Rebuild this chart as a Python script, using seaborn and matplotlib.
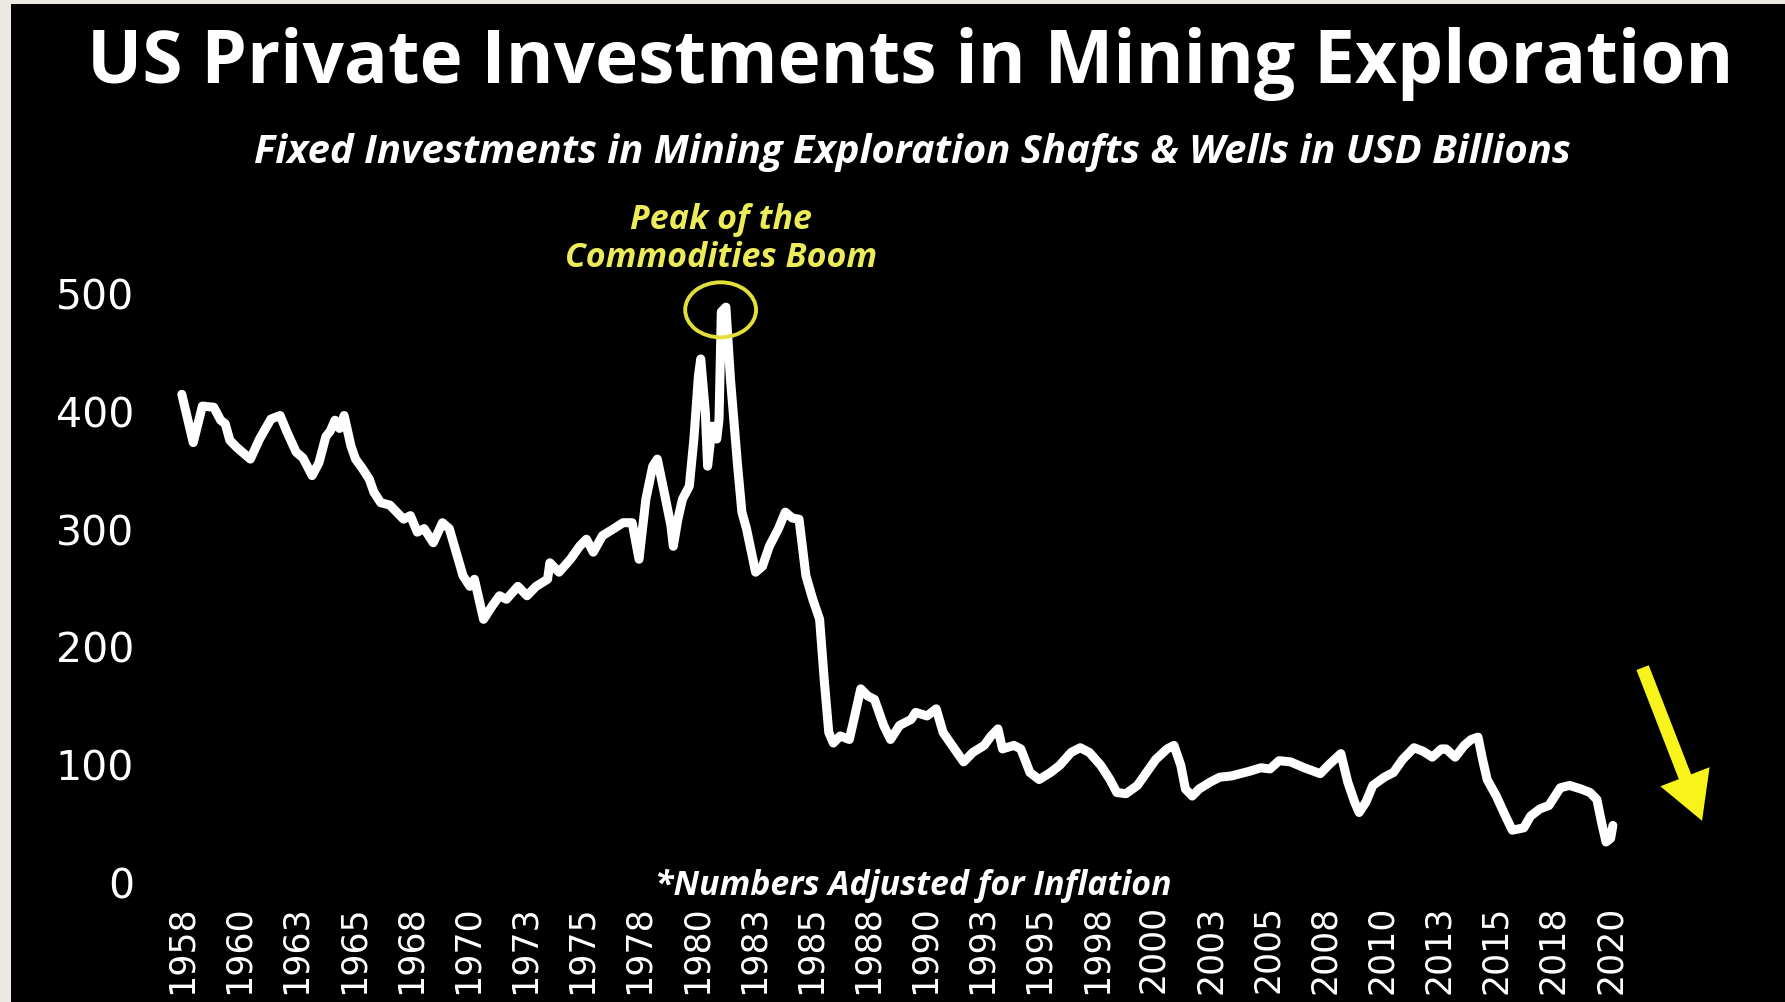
import seaborn as sns
import matplotlib.pyplot as plt
from matplotlib.patches import Ellipse, Rectangle

# values (USD billions, inflation adjusted)
years = [1958.3, 1958.8, 1959.2, 1959.7, 1960.0, 1960.2, 1960.4, 1960.7, 1961.3, 1961.7,
         1962.2, 1962.6, 1962.9, 1963.3, 1963.6, 1964.0, 1964.3, 1964.6, 1964.8, 1965.0,
         1965.2, 1965.4, 1965.7, 1965.9, 1966.2, 1966.5, 1966.7, 1967.0, 1967.4, 1967.7,
         1968.0, 1968.3, 1968.6, 1968.9, 1969.3, 1969.7, 1970.0, 1970.3, 1970.6, 1970.9,
         1971.1, 1971.5, 1971.9, 1972.2, 1972.5, 1973.0, 1973.4, 1973.8, 1974.3, 1974.4,
         1974.8, 1975.3, 1975.7, 1976.0, 1976.3, 1976.7, 1977.2, 1977.6, 1978.0, 1978.3,
         1978.6, 1978.9, 1979.1, 1979.4, 1979.7, 1979.8, 1980.0, 1980.2, 1980.5, 1980.7,
         1980.9, 1981.0, 1981.2, 1981.3, 1981.5, 1981.7, 1981.8, 1981.9, 1982.1, 1982.3,
         1982.6, 1982.8, 1983.0, 1983.4, 1983.7, 1984.0, 1984.4, 1984.7, 1985.0, 1985.3,
         1985.6, 1985.9, 1986.2, 1986.4, 1986.6, 1986.8, 1987.1, 1987.5, 1987.7, 1988.0,
         1988.3, 1988.6, 1989.0, 1989.3, 1989.7, 1990.2, 1990.4, 1990.9, 1991.3, 1991.6,
         1992.1, 1992.5, 1992.9, 1993.4, 1993.7, 1994.0, 1994.2, 1994.7, 1995.0, 1995.4,
         1995.8, 1996.3, 1996.7, 1997.2, 1997.6, 1998.0, 1998.5, 1998.9, 1999.2, 1999.6,
         2000.1, 2000.5, 2000.9, 2001.4, 2001.7, 2002.0, 2002.2, 2002.5, 2002.8, 2003.3,
         2003.7, 2004.2, 2004.6, 2005.0, 2005.5, 2005.9, 2006.3, 2006.8, 2007.4, 2008.1,
         2008.5, 2009.0, 2009.3, 2009.6, 2009.8, 2010.1, 2010.4, 2010.9, 2011.3, 2011.7,
         2012.2, 2012.6, 2013.0, 2013.4, 2013.6, 2014.0, 2014.4, 2014.7, 2015.0, 2015.2,
         2015.4, 2015.8, 2016.2, 2016.5, 2017.0, 2017.3, 2017.7, 2018.1, 2018.6, 2019.0,
         2019.5, 2019.9, 2020.2, 2020.4, 2020.6, 2020.8, 2020.9]
invest = [414, 373, 404, 403, 392, 389, 375, 369, 359, 376,
          393, 396, 382, 365, 360, 345, 356, 378, 383, 392,
          385, 396, 370, 359, 351, 342, 331, 322, 320, 314,
          308, 311, 297, 300, 288, 305, 300, 280, 260, 251,
          257, 223, 235, 243, 240, 251, 243, 251, 257, 271,
          263, 274, 285, 291, 280, 294, 300, 305, 305, 274,
          325, 353, 359, 331, 302, 285, 308, 325, 336, 376,
          430, 444, 399, 353, 387, 376, 393, 484, 488, 427,
          356, 314, 300, 263, 268, 285, 300, 314, 309, 308,
          260, 240, 223, 172, 127, 118, 124, 121, 138, 164,
          158, 155, 133, 121, 133, 138, 144, 141, 147, 127,
          113, 102, 110, 116, 124, 130, 113, 116, 113, 93,
          87, 93, 99, 110, 114, 110, 99, 87, 76, 75,
          82, 93, 104, 113, 116, 99, 79, 73, 79, 85,
          89, 90, 92, 94, 97, 96, 103, 102, 97, 92,
          100, 109, 85, 68, 59, 68, 82, 89, 93, 104,
          114, 111, 106, 113, 113, 106, 116, 121, 123, 104,
          87, 73, 56, 44, 46, 56, 62, 65, 80, 82,
          79, 76, 70, 51, 34, 37, 48]

# one label every 10 quarters, first one at the first quarter shown
tick_pos = [1958.3 + 2.5 * k for k in range(26)]
tick_labels = ["1958", "1960", "1963", "1965", "1968", "1970", "1973", "1975", "1978",
               "1980", "1983", "1985", "1988", "1990", "1993", "1995", "1998", "2000",
               "2003", "2005", "2008", "2010", "2013", "2015", "2018", "2020"]
y_ticks = [0, 100, 200, 300, 400, 500]

sns.set_style("dark")
plt.rcParams["font.family"] = ["Open Sans", "DejaVu Sans"]

fig = plt.figure(figsize=(17.85, 10.03), dpi=100, facecolor="#ECE9E2")
fig.patches.append(Rectangle((11 / 1785, 0), 1, 1 - 5 / 1003, transform=fig.transFigure,
                             facecolor="black", edgecolor="none", zorder=-10))
ax = fig.add_axes([0.0852, 0.1196, 0.8837, 0.5873])
ax.set_facecolor("black")

sns.lineplot(x=years, y=invest, color="white", lw=6.5, ax=ax)

ax.set_xlim(1957, 2026)
ax.set_ylim(0, 500)
ax.set_xticks(tick_pos)
ax.set_xticklabels(tick_labels, rotation=90, fontsize=25, color="white", family="DejaVu Sans")
ax.set_yticks(y_ticks)
ax.set_yticklabels([str(v) for v in y_ticks], fontsize=29.5, color="white", family="DejaVu Sans")
ax.tick_params(axis="x", length=0, pad=16)
ax.tick_params(axis="y", length=0, pad=13)
ax.grid(False)
for s in ax.spines.values():
    s.set_visible(False)

fig.text(0.5098, 0.936, "US Private Investments in Mining Exploration", ha="center", va="center",
         fontsize=52.5, fontweight="bold", color="white")
fig.text(0.511, 0.848, "Fixed Investments in Mining Exploration Shafts & Wells in USD Billions",
         ha="center", va="center", fontsize=28.8, fontweight="bold", style="italic", color="white")

# peak annotation
ax.add_patch(Ellipse((1981.87, 485.7), 3.1, 46.7, fill=False, edgecolor="#E2DE3A", lw=2.8,
                     clip_on=False, zorder=5))
ax.text(1981.9, 547, "Peak of the\nCommodities Boom", ha="center", va="center", fontsize=24.5,
        fontweight="bold", style="italic", color="#ECEC5A", linespacing=1.15, clip_on=False)

ax.text(1990.3, -2, "*Numbers Adjusted for Inflation", ha="center", va="center", fontsize=24.4,
        fontweight="bold", style="italic", color="white", clip_on=False)

ax.annotate("", xy=(2024.8, 52), xytext=(2022.2, 182), annotation_clip=False,
            arrowprops=dict(width=9.5, headwidth=38, headlength=34, shrink=0,
                            facecolor="#F8F31B", edgecolor="none"))

fig.savefig("out.png", dpi=100, facecolor=fig.get_facecolor())
